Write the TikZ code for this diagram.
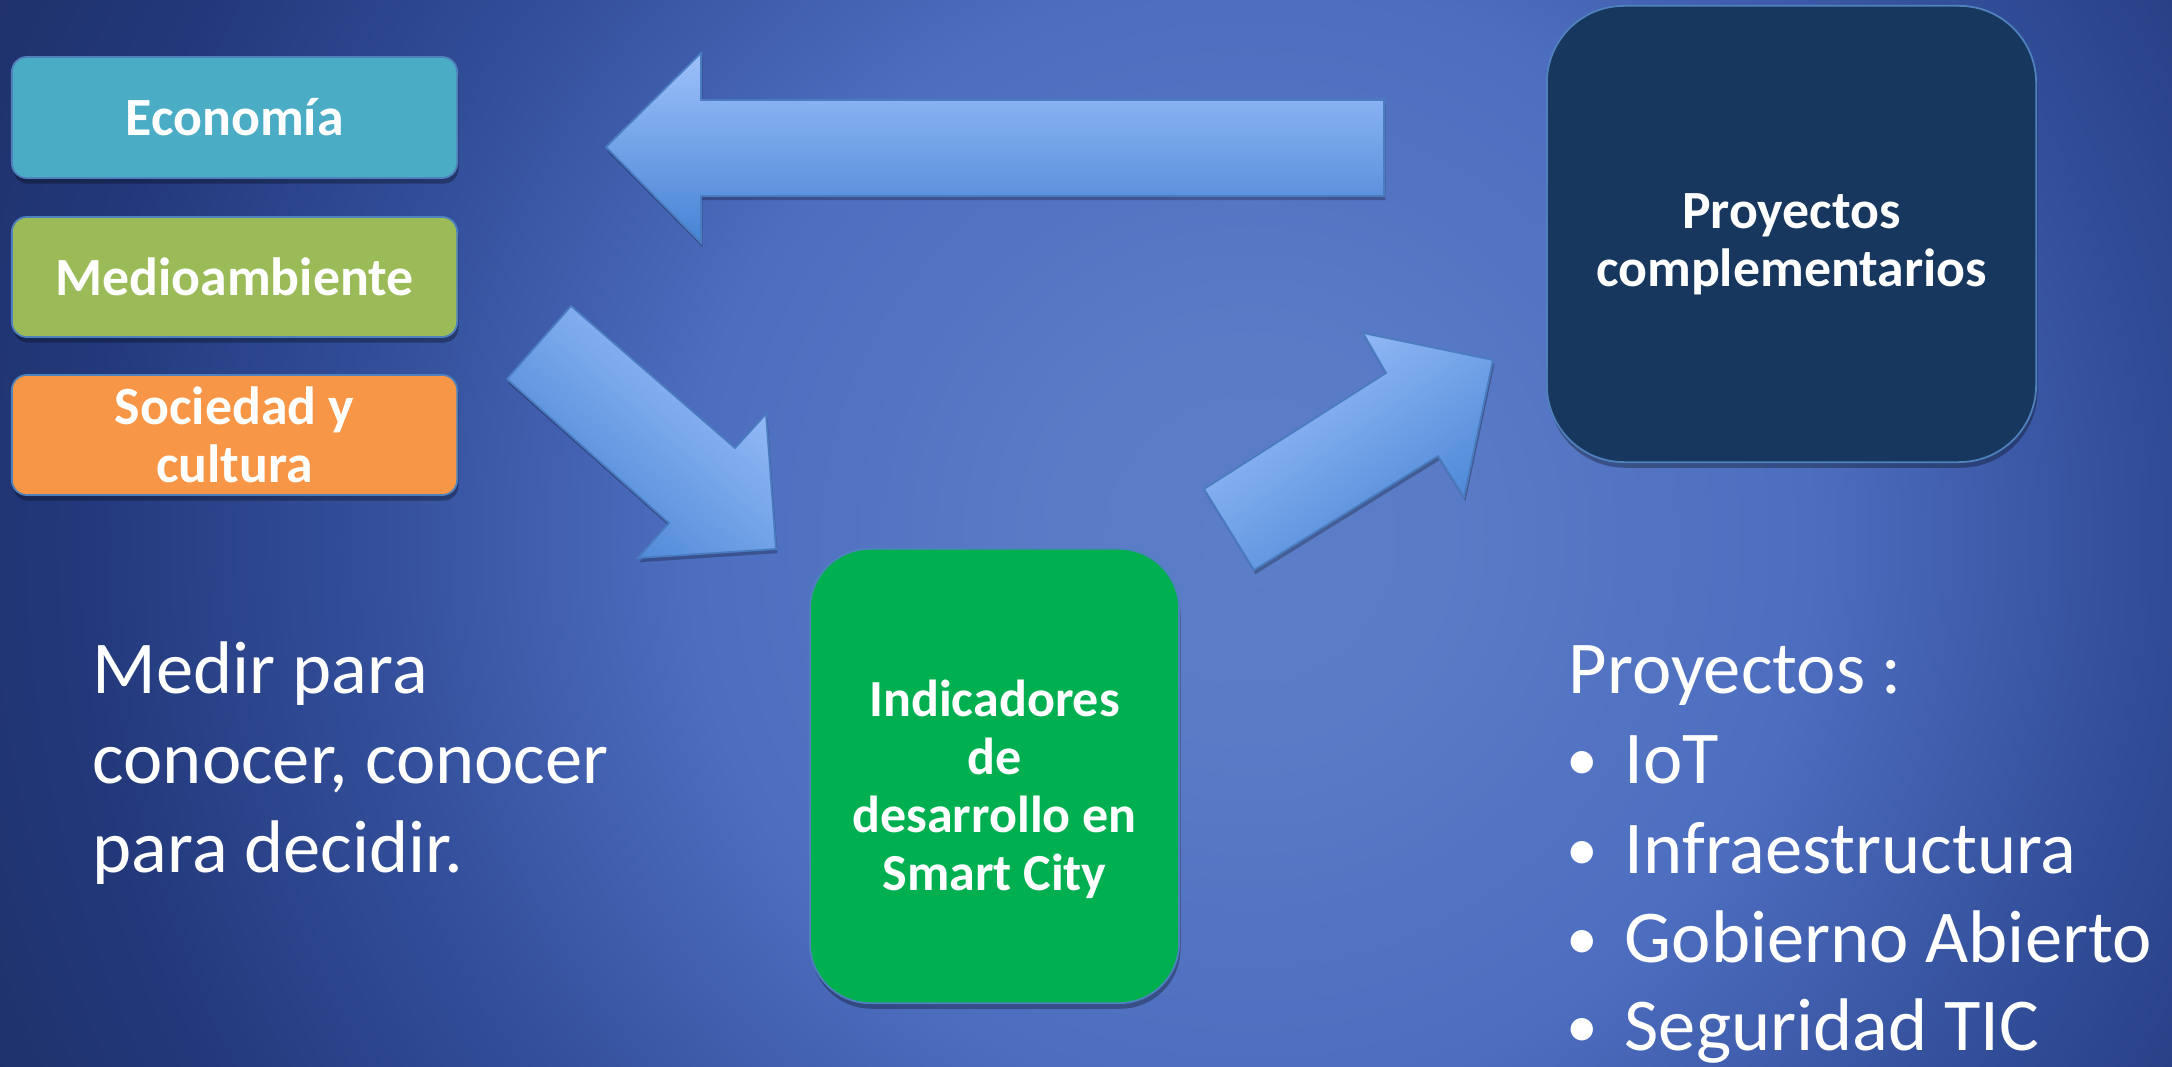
\documentclass[tikz,border=0pt]{standalone}
\usepackage{fontspec}
\setmainfont{Carlito}
\usetikzlibrary{shadows}
\definecolor{ecoC}{HTML}{4BACC6}
\definecolor{medC}{HTML}{9BBB59}
\definecolor{socC}{HTML}{F79646}
\definecolor{indC}{HTML}{00B050}
\definecolor{proC}{HTML}{17375E}
\definecolor{edgeC}{HTML}{4F81BD}
\definecolor{arrTop}{HTML}{9DC1FA}
\definecolor{arrBot}{HTML}{4683D4}
\definecolor{arrEdge}{HTML}{4A7CC0}
\definecolor{bgA}{HTML}{5C7EC9}
\definecolor{bgB}{HTML}{5A7BC6}
\definecolor{bgC}{HTML}{4D6DBF}
\definecolor{bgD}{HTML}{34509C}
\definecolor{bgE}{HTML}{22387A}
\definecolor{bgF}{HTML}{1E3169}
\pgfdeclareradialshading{bgrad}{\pgfpoint{0bp}{0bp}}{color(0bp)=(bgA); color(3.5bp)=(bgB); color(10bp)=(bgC); color(15.5bp)=(bgD); color(21bp)=(bgE); color(25bp)=(bgF); color(50bp)=(bgF)}
\newcommand{\bxfont}{\bfseries\fontsize{15.3pt}{16.5pt}\selectfont}
\newcommand{\indfont}{\bfseries\fontsize{14.8pt}{16.5pt}\selectfont}
\newcommand{\bigfont}{\fontsize{21.2pt}{25.3pt}\selectfont}
\tikzset{
  boxshadow/.style={drop shadow={shadow xshift=0.4pt, shadow yshift=-1.6pt, opacity=0.3, fill=black}},
  catbox/.style={draw=edgeC, line width=0.5pt, rounded corners=0.15cm, minimum width=4.45cm, minimum height=1.2cm, inner sep=0pt, text=white, font=\bxfont, align=center, boxshadow},
  bigbox/.style={draw=edgeC, line width=0.5pt, inner sep=0pt, boxshadow},
  boxlabel/.style={text=white, align=center, inner sep=0pt},
  blockarrow/.style={draw=arrEdge, line width=0.5pt, top color=arrTop, bottom color=arrBot, drop shadow={shadow xshift=0.4pt, shadow yshift=-1.2pt, opacity=0.25, fill=black}},
  bigtext/.style={text=white, font=\bigfont, inner sep=0pt, anchor=base west},
  bullettext/.style={text=white, font=\bigfont, inner sep=0pt, anchor=base west, scale=0.85}
}
\begin{document}
\begin{tikzpicture}[x=0.01cm, y=-0.01cm]
\useasboundingbox (0,0) rectangle (2172,1067);
\begin{scope}
  \clip (0,0) rectangle (2172,1067);
  \shade[shading=bgrad] (-150,-860) rectangle (2650,1940);
\end{scope}

% category boxes
\node[catbox, fill=ecoC, minimum height=1.21cm] (eco) at (234.5,117.5) {Economía};
\node[catbox, fill=medC] (med) at (234.5,277) {Medioambiente};
\node[catbox, fill=socC] (soc) at (234.5,435) {Sociedad y\\cultura};

% main boxes
\node[bigbox, fill=indC, rounded corners=0.6cm, minimum width=3.69cm, minimum height=4.54cm] (ind) at (994.5,776) {};
\node[boxlabel, font=\indfont] (indtext) at (994.5,789) {Indicadores\\de\\desarrollo en\\Smart City};
\node[bigbox, fill=proC, rounded corners=0.77cm, minimum width=4.89cm, minimum height=4.56cm] (pro) at (1791.5,234) {};
\node[boxlabel, font=\bxfont] (protext) at (1791.5,244) {Proyectos\\complementarios};

% block arrows
\path[blockarrow, shading angle=0] (606,147) -- (701,53) -- (701,100) -- (1384,100) -- (1384,196) -- (701,196) -- (701,243) -- cycle;
\path[blockarrow, shading angle=-41] (571,306) -- (735,448) -- (766,414) -- (776,549) -- (638,558) -- (669,523) -- (507,379) -- cycle;
\path[blockarrow, shading angle=35] (1254,570) -- (1204,489) -- (1386,373) -- (1363,333) -- (1493,360) -- (1464,497) -- (1438,456) -- cycle;

% left text
\node[bigtext] (m1) at (92,693) {Medir para};
\node[bigtext] (m2) at (92,783) {conocer, conocer};
\node[bigtext] (m3) at (92,872) {para decidir.};

% right text
\node[bigtext] (p0) at (1568,693) {Proyectos :};
\node[bullettext] (b1) at (1566,780) {•};
\node[bigtext] (t1) at (1624,783) {IoT};
\node[bullettext] (b2) at (1566,870) {•};
\node[bigtext] (t2) at (1624,873) {Infraestructura};
\node[bullettext] (b3) at (1566,959) {•};
\node[bigtext] (t3) at (1624,962) {Gobierno Abierto};
\node[bullettext] (b4) at (1566,1047) {•};
\node[bigtext] (t4) at (1624,1050) {Seguridad TIC};
\end{tikzpicture}
\end{document}
